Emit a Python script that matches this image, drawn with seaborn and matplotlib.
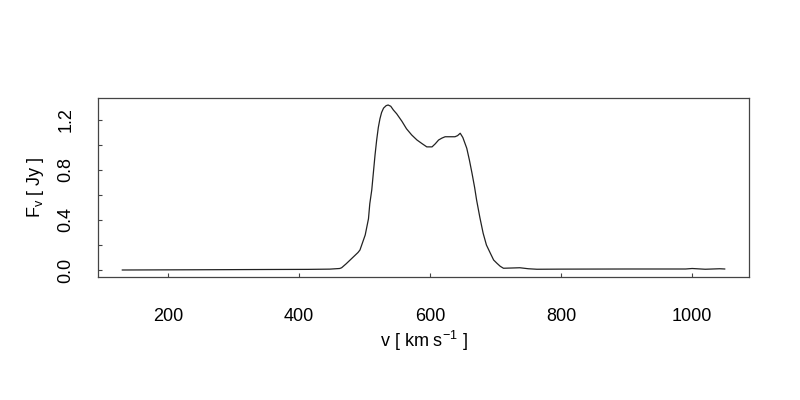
import numpy as np
import pandas as pd
import matplotlib
matplotlib.use("Agg")
import matplotlib.pyplot as plt
import seaborn as sns

# HI profile
velocity = [130, 250, 350, 414, 447, 462, 465, 472, 478, 490, 493, 501, 506,
            508, 511, 513.5, 516, 518.5, 521, 523.5, 526, 529, 533, 536, 540,
            544, 549, 557, 564, 572, 580, 588, 595, 603, 608, 613, 618, 623,
            630, 638, 642, 646, 650, 656, 660, 664, 668, 671, 676, 681, 686,
            692, 697, 702, 707, 712, 725, 737, 750, 763, 800, 900, 990, 1000,
            1020, 1042, 1050]
flux = [0.0, 0.002, 0.004, 0.005, 0.007, 0.012, 0.018, 0.05, 0.08, 0.14, 0.16,
        0.28, 0.41, 0.53, 0.64, 0.78, 0.92, 1.04, 1.14, 1.21, 1.26, 1.295,
        1.315, 1.32, 1.31, 1.28, 1.25, 1.19, 1.13, 1.08, 1.04, 1.01, 0.985,
        0.985, 1.01, 1.04, 1.055, 1.066, 1.066, 1.066, 1.075, 1.094, 1.06,
        0.974, 0.88, 0.774, 0.66, 0.56, 0.42, 0.294, 0.2, 0.134, 0.08, 0.054,
        0.03, 0.014, 0.016, 0.018, 0.01, 0.006, 0.007, 0.008, 0.008, 0.012,
        0.006, 0.01, 0.008]

x_ticks = [200, 400, 600, 800, 1000]
y_ticks = [0.0, 0.4, 0.8, 1.2]
y_minor = [0.2, 0.6, 1.0]

sns.set_style("white")
plt.rcParams["font.family"] = ["Liberation Sans", "DejaVu Sans"]
plt.rcParams["mathtext.fontset"] = "custom"
plt.rcParams["mathtext.rm"] = "Liberation Sans"
plt.rcParams["mathtext.it"] = "Liberation Sans"
plt.rcParams["text.color"] = "black"
plt.rcParams["axes.labelcolor"] = "black"
plt.rcParams["xtick.color"] = "black"
plt.rcParams["ytick.color"] = "black"

df = pd.DataFrame({"v": velocity, "F": flux})

fig = plt.figure(figsize=(8, 4), dpi=100)
ax = fig.add_axes([0.1225, 0.3075, 0.8138, 0.4475])
sns.lineplot(data=df, x="v", y="F", ax=ax, color="#222222", linewidth=0.9)

# R-style 4% padding
vr = max(velocity) - min(velocity)
ax.set_xlim(min(velocity) - 0.04 * vr, max(velocity) + 0.04 * vr)
ax.set_ylim(-0.056, 1.376)

ax.set_xticks(x_ticks)
ax.set_xticklabels([str(t) for t in x_ticks])
ax.set_yticks(y_ticks)
ax.set_yticklabels([f"{t:.1f}" for t in y_ticks], rotation=90, va="center")
ax.set_yticks(y_minor, minor=True)
ax.tick_params(axis="both", which="both", direction="in", length=3,
               width=0.8, color="#444444", labelsize=13,
               bottom=True, left=True)
ax.tick_params(axis="x", which="both", pad=22)
ax.tick_params(axis="y", which="both", pad=17)

for s in ax.spines.values():
    s.set_color("#444444")
    s.set_linewidth(0.9)

ax.set_xlabel(r"v [ km s$^{-1}$ ]", fontsize=13, labelpad=3)
ax.set_ylabel(r"F$_\mathrm{v}$ [ Jy ]", fontsize=13, labelpad=8)

fig.savefig("out.png", dpi=100, facecolor="white")
